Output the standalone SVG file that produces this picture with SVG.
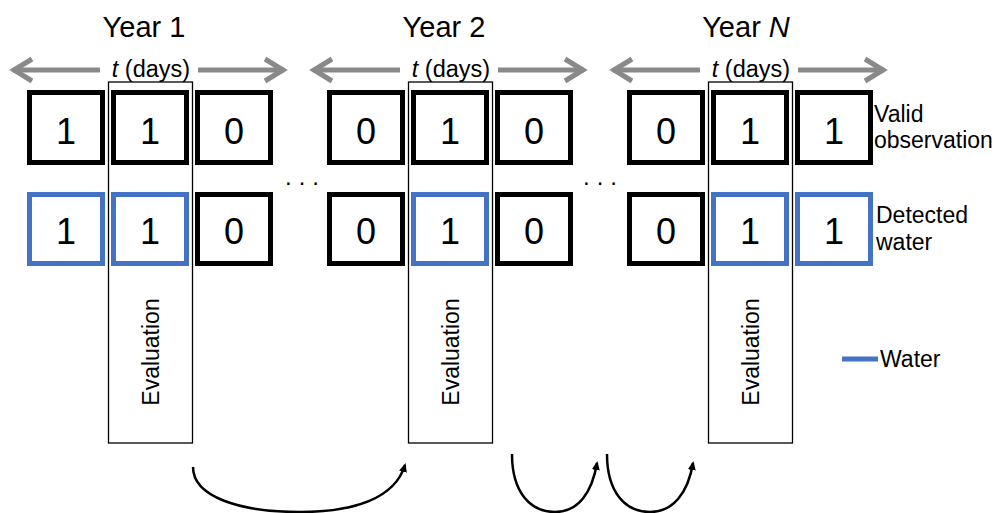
<svg xmlns="http://www.w3.org/2000/svg" width="998" height="513" viewBox="0 0 998 513">
<defs>
<style>
text{font-family:"Liberation Sans",Arial,sans-serif;fill:#000}
.year{font-size:29px;text-anchor:middle}
.days{font-size:23.5px;text-anchor:middle}
.dig{font-size:36px;text-anchor:middle}
.lab{font-size:23px}
.ev{font-size:23px;text-anchor:middle}
.bk{fill:#fff;stroke:#000;stroke-width:5}
.bl{fill:#fff;stroke:#4472C4;stroke-width:5}
.evr{fill:none;stroke:#000;stroke-width:1.3}
.ga{fill:none;stroke:#898989;stroke-width:5}
.gh{fill:none;stroke:#898989;stroke-width:5;stroke-linejoin:miter}
.cv{fill:none;stroke:#000;stroke-width:2.5}
</style>
<marker id="ah" markerWidth="10" markerHeight="10" refX="7" refY="5" orient="auto" markerUnits="userSpaceOnUse" viewBox="0 0 10 10">
<path d="M0,1 L9,5 L0,9 Z" fill="#000"/>
</marker>
</defs>

<g id="year1">
<text class="year" x="144" y="37">Year 1</text>
<text class="days" x="151" y="77"><tspan font-style="italic">t</tspan> (days)</text>
<path class="ga" d="M13,70 H100 M198,70 H284"/>
<path class="gh" d="M32,59 L14,70 L32,81 M265,59 L283,70 L265,81"/>
<rect class="bk" x="29.5" y="92.5" width="73" height="70"/>
<rect class="bk" x="113.5" y="92.5" width="73" height="70"/>
<rect class="bk" x="197.5" y="92.5" width="73" height="70"/>
<text class="dig" x="66" y="143.5">1</text>
<text class="dig" x="150" y="143.5">1</text>
<text class="dig" x="234" y="143.5">0</text>
<rect class="bl" x="29.5" y="194.5" width="73" height="69"/>
<rect class="bl" x="113.5" y="194.5" width="73" height="69"/>
<rect class="bk" x="197.5" y="194.5" width="73" height="69"/>
<text class="dig" x="66" y="244">1</text>
<text class="dig" x="150" y="244">1</text>
<text class="dig" x="234" y="244">0</text>
<rect class="evr" x="108.5" y="82" width="84" height="361"/>
<text class="ev" transform="translate(159,352) rotate(-90)">Evaluation</text>
</g>

<g id="year2">
<text class="year" x="444" y="37">Year 2</text>
<text class="days" x="451" y="77"><tspan font-style="italic">t</tspan> (days)</text>
<path class="ga" d="M313,70 H400 M498,70 H584"/>
<path class="gh" d="M332,59 L314,70 L332,81 M565,59 L583,70 L565,81"/>
<rect class="bk" x="329.5" y="92.5" width="73" height="70"/>
<rect class="bk" x="413.5" y="92.5" width="73" height="70"/>
<rect class="bk" x="497.5" y="92.5" width="73" height="70"/>
<text class="dig" x="366" y="143.5">0</text>
<text class="dig" x="450" y="143.5">1</text>
<text class="dig" x="534" y="143.5">0</text>
<rect class="bk" x="329.5" y="194.5" width="73" height="69"/>
<rect class="bl" x="413.5" y="194.5" width="73" height="69"/>
<rect class="bk" x="497.5" y="194.5" width="73" height="69"/>
<text class="dig" x="366" y="244">0</text>
<text class="dig" x="450" y="244">1</text>
<text class="dig" x="534" y="244">0</text>
<rect class="evr" x="408.5" y="82" width="84" height="361"/>
<text class="ev" transform="translate(459,352) rotate(-90)">Evaluation</text>
</g>

<g id="yearN">
<text class="year" x="746" y="37">Year <tspan font-style="italic">N</tspan></text>
<text class="days" x="751" y="77"><tspan font-style="italic">t</tspan> (days)</text>
<path class="ga" d="M613,70 H700 M798,70 H884"/>
<path class="gh" d="M632,59 L614,70 L632,81 M865,59 L883,70 L865,81"/>
<rect class="bk" x="629.5" y="92.5" width="73" height="70"/>
<rect class="bk" x="713.5" y="92.5" width="73" height="70"/>
<rect class="bk" x="797.5" y="92.5" width="73" height="70"/>
<text class="dig" x="666" y="143.5">0</text>
<text class="dig" x="750" y="143.5">1</text>
<text class="dig" x="834" y="143.5">1</text>
<rect class="bk" x="629.5" y="194.5" width="73" height="69"/>
<rect class="bl" x="713.5" y="194.5" width="73" height="69"/>
<rect class="bl" x="797.5" y="194.5" width="73" height="69"/>
<text class="dig" x="666" y="244">0</text>
<text class="dig" x="750" y="244">1</text>
<text class="dig" x="834" y="244">1</text>
<rect class="evr" x="708.5" y="82" width="84" height="361"/>
<text class="ev" transform="translate(759,352) rotate(-90)">Evaluation</text>
</g>

<g id="dots">
<text x="285" y="185" font-size="24" letter-spacing="7">...</text>
<text x="583" y="185" font-size="24" letter-spacing="7">...</text>
</g>

<g id="labels">
<text class="lab" x="874" y="122">Valid</text>
<text class="lab" x="874" y="148">observation</text>
<text class="lab" x="876" y="223">Detected</text>
<text class="lab" x="876" y="250">water</text>
</g>

<g id="legend">
<line x1="842" y1="359" x2="878" y2="359" stroke="#4472C4" stroke-width="5"/>
<text class="lab" x="880" y="367">Water</text>
</g>

<g id="connectors">
<path class="cv" marker-end="url(#ah)" d="M193,467 C193,497 240,512 300,512 C355,512 395,498 405,465"/>
<path class="cv" marker-end="url(#ah)" d="M512,454 C512,492 530,512 555,512 C578,512 592,493 597,463"/>
<path class="cv" marker-end="url(#ah)" d="M607,454 C607,492 625,512 650,512 C673,512 688,493 693,463"/>
</g>
</svg>
